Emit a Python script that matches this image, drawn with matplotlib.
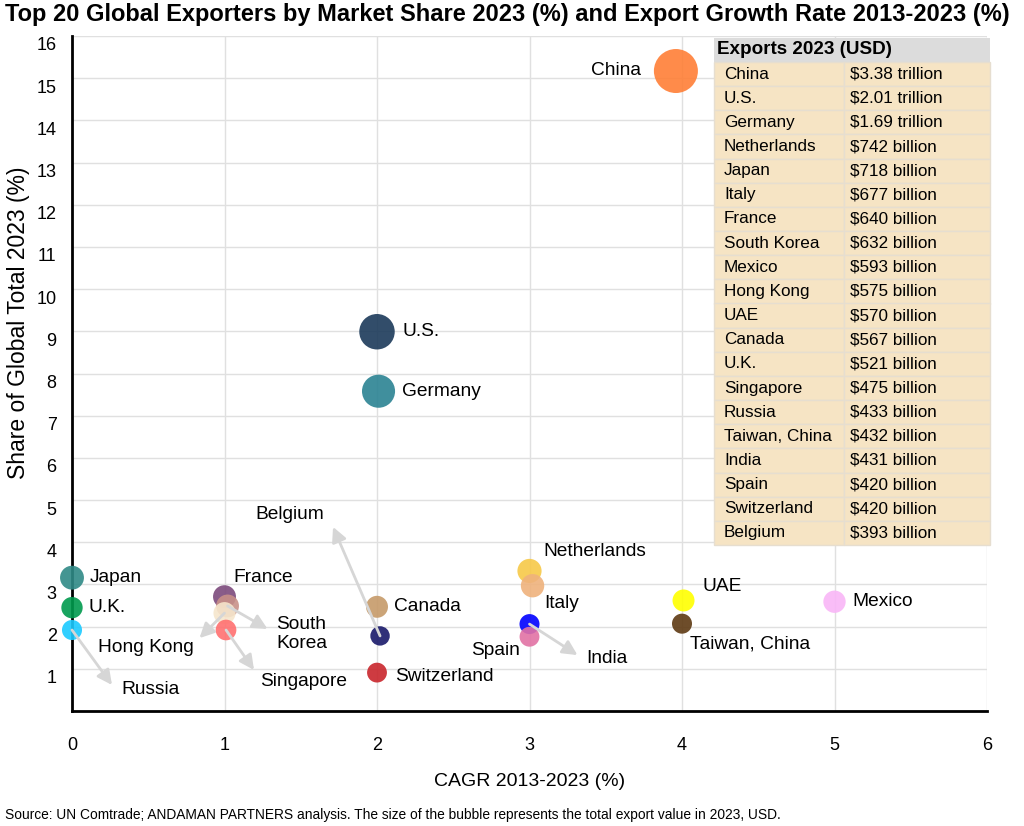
import numpy as np
import matplotlib.pyplot as plt
from matplotlib.patches import Rectangle
from matplotlib.transforms import ScaledTranslation

plt.rcParams['font.family'] = ['Liberation Sans', 'DejaVu Sans']

# data (table order: exports 2023 descending)
countries = ['China', 'U.S.', 'Germany', 'Netherlands', 'Japan', 'Italy', 'France',
             'South Korea', 'Mexico', 'Hong Kong', 'UAE', 'Canada', 'U.K.', 'Singapore',
             'Russia', 'Taiwan, China', 'India', 'Spain', 'Switzerland', 'Belgium']
cagr = [3.96, 2.0, 2.01, 3.0, 0.0, 3.02, 1.0,
        1.02, 5.0, 1.0, 4.01, 2.0, 0.0, 1.01,
        0.0, 4.0, 3.0, 3.0, 2.0, 2.02]
share = [15.17, 8.99, 7.58, 3.32, 3.16, 2.97, 2.71,
         2.49, 2.59, 2.32, 2.62, 2.47, 2.45, 1.92,
         1.92, 2.07, 2.06, 1.76, 0.91, 1.78]
exports_bn = [3380, 2010, 1690, 742, 718, 677, 640,
              632, 593, 575, 570, 567, 521, 475,
              433, 432, 431, 420, 420, 393]

colors = ['#ff7f36', '#1c3a5a', '#2b8393', '#f7c948', '#2f8a86', '#efb27c', '#7c4a7c',
          '#c89088', '#f9b6f7', '#f6e6cc', '#ffff00', '#c69a69', '#009a4d', '#ff7070',
          '#1ccaff', '#5e3a13', '#0000ff', '#e272a4', '#c9262c', '#19196a']

# label offsets from bubble centre (pixels), alignment
label_pos = {
    'China': (-35, 1, 'right'), 'U.S.': (25, 0, 'left'), 'Germany': (23, 0, 'left'),
    'Japan': (18, 0, 'left'), 'U.K.': (17, 0, 'left'), 'Russia': (49, -60, 'left'),
    'France': (9, 19, 'left'), 'South Korea': (49, -28, 'left'),
    'Hong Kong': (-31, -34, 'right'), 'Singapore': (34, -52, 'left'),
    'Canada': (17, 0, 'left'), 'Belgium': (-90, 121, 'center'),
    'Switzerland': (18, -4, 'left'), 'Netherlands': (14, 19, 'left'),
    'Italy': (12, -18, 'left'), 'Spain': (-10, -14, 'right'), 'India': (57, -34, 'left'),
    'UAE': (19, 14, 'left'), 'Taiwan, China': (8, -20, 'left'), 'Mexico': (18, 0, 'left'),
}
# arrow heads from bubble centre (pixels)
arrows = {
    'Russia': (40, -55), 'South Korea': (40, -23), 'Hong Kong': (-25, -25),
    'Singapore': (28, -40), 'Belgium': (-47, 109), 'India': (48, -31),
}

W, H = 1024, 826
fig = plt.figure(figsize=(W / 100, H / 100), dpi=100)
ax = fig.add_axes([72 / W, 1 - 711 / H, (987 - 72) / W, (711 - 36) / H])
ax.set_xlim(0, 6)
ax.set_ylim(0, 16)
ax.set_xticks(range(0, 7))
ax.set_yticks(range(1, 17))
ax.grid(True, color='#e0e0e0', lw=1)
ax.set_axisbelow(True)
for s in ['top', 'right']:
    ax.spines[s].set_visible(False)
for s in ['left', 'bottom']:
    ax.spines[s].set_linewidth(2)
    ax.spines[s].set_zorder(2.5)
ax.tick_params(length=0, labelsize=13)
ax.tick_params(axis='x', pad=19)
ax.tick_params(axis='y', pad=11)
shift = ScaledTranslation(0, -8 / 100, fig.dpi_scale_trans)
for lab in ax.get_yticklabels():
    lab.set_transform(lab.get_transform() + shift)

# bubble radius in px, then marker area in pt^2
exp = np.array(exports_bn, dtype=float)
r_px = 3.34 + 0.321 * np.sqrt(exp)
sizes = (2 * r_px * 0.72) ** 2
ax.scatter(cagr, share, s=sizes, c=colors, alpha=0.9, linewidths=0, zorder=3, clip_on=False)

for i, name in enumerate(countries):
    if name in arrows:
        dx, dy = arrows[name]
        x0, y0 = ax.transData.transform((cagr[i], share[i]))
        hx, hy = ax.transData.inverted().transform((x0 + dx, y0 + dy))
        ax.annotate('', xy=(hx, hy), xytext=(cagr[i], share[i]),
                    arrowprops=dict(arrowstyle='-|>', color='#d6d6d6', lw=2,
                                    mutation_scale=22, shrinkA=0, shrinkB=0), zorder=4)
    dx, dy, ha = label_pos[name]
    txt = 'South\nKorea' if name == 'South Korea' else name
    ax.annotate(txt, xy=(cagr[i], share[i]), xytext=(dx, dy), textcoords='offset pixels',
                ha=ha, va='center', fontsize=13.8, zorder=5, linespacing=1.2)

# table
tl, tr, tsplit = 714, 990, 844
top, head_h = 38, 24
row_h = (545 - 62) / len(countries)


def fx(px):
    return px / W


def fy(py):
    return 1 - py / H


fig.patches.append(Rectangle((fx(tl), fy(top + head_h)), fx(tr) - fx(tl), head_h / H,
                             transform=fig.transFigure, facecolor='#dcdcdc', edgecolor='none'))
fig.text(fx(tl + 3), fy(top + head_h / 2), 'Exports 2023 (USD)', fontsize=13.6,
         fontweight='bold', va='center', ha='left')
for j, name in enumerate(countries):
    v = exports_bn[j]
    val = f'${v / 1000:.2f} trillion' if v >= 1000 else f'${v:.0f} billion'
    y_top = top + head_h + j * row_h
    for x_a, x_b in [(tl, tsplit), (tsplit, tr)]:
        fig.patches.append(Rectangle((fx(x_a), fy(y_top + row_h)), (x_b - x_a) / W, row_h / H,
                                     transform=fig.transFigure, facecolor='#f6e4c4',
                                     edgecolor='#e6ded0', lw=1))
    fig.text(fx(tl + 10), fy(y_top + row_h / 2), name, fontsize=12.3, va='center', ha='left')
    fig.text(fx(tsplit + 6), fy(y_top + row_h / 2), val, fontsize=12.3, va='center', ha='left')

fig.text(5 / W, fy(14), 'Top 20 Global Exporters by Market Share 2023 (%) and Export Growth Rate 2013-2023 (%)',
         fontsize=17, fontweight='bold', ha='left', va='center')
fig.text(19 / W, fy(323), 'Share of Global Total 2023 (%)', rotation=90, fontsize=16.5,
         ha='center', va='center')
fig.text(530 / W, fy(782), 'CAGR 2013-2023 (%)', fontsize=14, ha='center', va='center')
fig.text(5 / W, fy(815), 'Source: UN Comtrade; ANDAMAN PARTNERS analysis. The size of the bubble represents the total export value in 2023, USD.',
         fontsize=9.9, ha='left', va='center')

fig.savefig('out.png', dpi=100)
